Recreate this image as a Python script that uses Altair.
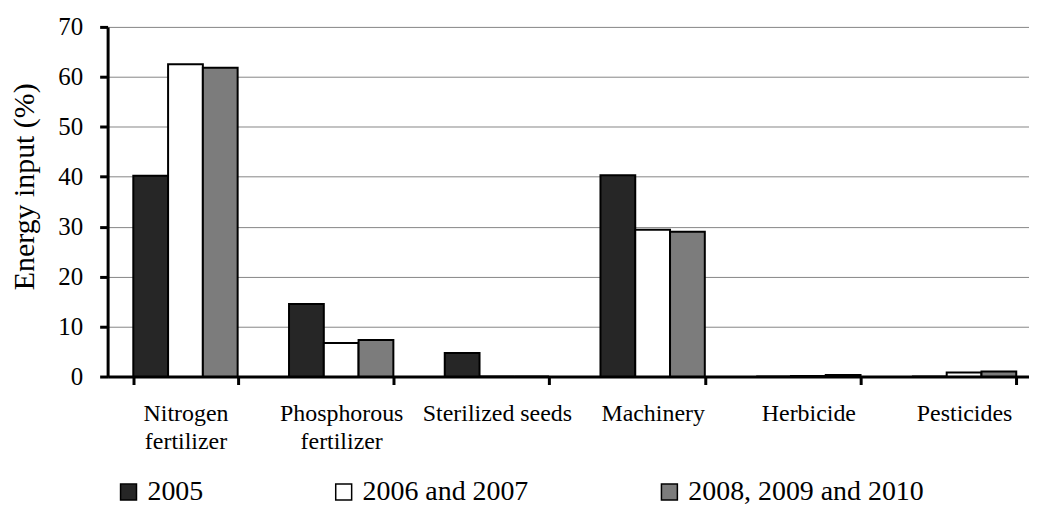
import altair as alt
import pandas as pd

categories = ["Nitrogen fertilizer", "Phosphorous fertilizer", "Sterilized seeds",
              "Machinery", "Herbicide", "Pesticides"]
series = ["2005", "2006 and 2007", "2008, 2009 and 2010"]
v2005 = [40.2, 14.5, 4.7, 40.3, 0.0, 0.0]
v2006_2007 = [62.5, 6.7, 0.0, 29.4, 0.1, 0.8]
v2008_2010 = [61.8, 7.3, 0.0, 29.0, 0.3, 1.0]
y_ticks = [0, 10, 20, 30, 40, 50, 60, 70]
fills = ["#262626", "#ffffff", "#7c7c7c"]

rows = []
for s, vals in zip(series, [v2005, v2006_2007, v2008_2010]):
    for c, v in zip(categories, vals):
        rows.append({"category": c, "series": s, "value": v})
df = pd.DataFrame(rows)

font = "Liberation Serif"

chart = alt.Chart(df).mark_bar(stroke="black", strokeWidth=2).encode(
    x=alt.X(
        "category:N", sort=categories,
        scale=alt.Scale(range=[0, 938], paddingInner=0.33, paddingOuter=0.165),
        axis=alt.Axis(
            title=None, labelAngle=0, tickBand="extent",
            domainColor="black", domainWidth=3,
            tickColor="black", tickWidth=3, tickSize=8,
            labelFont=font, labelFontSize=24, labelColor="black",
            labelPadding=17, labelLineHeight=28,
            labelExpr="indexof(datum.label, 'fertilizer') > 0 ? split(datum.label, ' ') : datum.label",
        ),
    ),
    xOffset=alt.XOffset("series:N", sort=series,
                        scale=alt.Scale(paddingInner=0, paddingOuter=0)),
    y=alt.Y(
        "value:Q",
        scale=alt.Scale(domain=[0, 70], nice=False),
        axis=alt.Axis(
            values=y_ticks, title="Energy input (%)",
            titleFont=font, titleFontSize=30, titleFontWeight="normal",
            titleColor="black", titlePadding=18, titleY=160,
            labelFont=font, labelFontSize=25, labelColor="black", labelPadding=17,
            domainColor="black", domainWidth=3,
            tickColor="black", tickWidth=3, tickSize=8,
            gridColor="#868686", gridWidth=1,
        ),
    ),
    fill=alt.Fill(
        "series:N", sort=series,
        scale=alt.Scale(domain=series, range=fills),
        legend=alt.Legend(
            title=None, orient="none", legendX=7, legendY=453,
            direction="horizontal", columns=3, columnPadding=127,
            symbolType="square", symbolSize=256,
            symbolStrokeColor="black", symbolStrokeWidth=1.5,
            labelFont=font, labelFontSize=28, labelColor="black",
            labelOffset=5, labelLimit=400, padding=0,
        ),
    ),
).properties(
    width=925, height=351,
    autosize=alt.AutoSizeParams(type="none"),
    padding={"left": 100, "top": 18, "right": 0, "bottom": 130},
    background="white",
).configure_view(stroke=None)

chart.save("out.html", embed_options={"renderer": "svg", "actions": False})
